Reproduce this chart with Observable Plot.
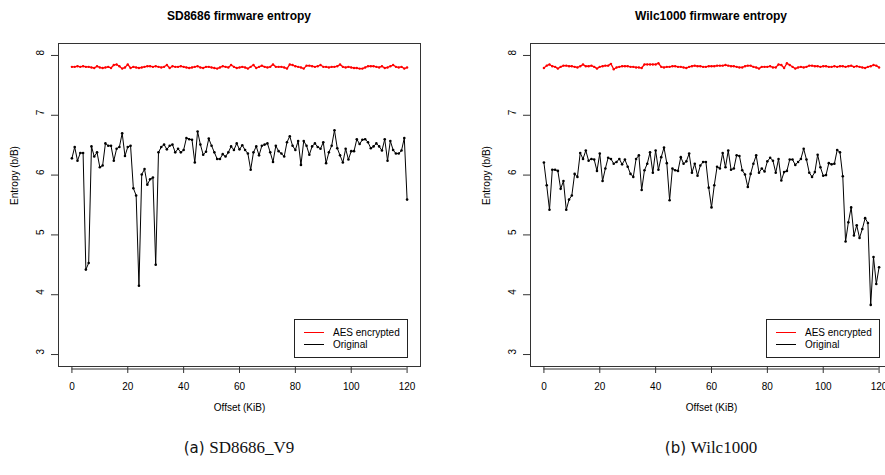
<!DOCTYPE html>
<html>
<head>
<meta charset="utf-8">
<script src="https://cdn.jsdelivr.net/npm/d3@7"></script>
<script src="https://cdn.jsdelivr.net/npm/@observablehq/plot@0.6"></script>
<style>
  body { margin: 0; background: #fff; }
  #fig { position: relative; width: 885px; height: 475px; overflow: hidden; background: #fff; font-family: "Liberation Sans", Arial, sans-serif; }
  .panel { position: absolute; top: 0; width: 440px; height: 420px; }
  .panel svg { max-width: none !important; display: block; }
  .title { position: absolute; top: 9px; width: 300px; margin-left: -150px; text-align: center; font-weight: bold; font-size: 12px; color: #000; }
  .legend { position: absolute; border: 1px solid #222; width: 112px; height: 37px; font-size: 10px; background: #fff; }
  .legend .row { position: absolute; left: 0; height: 12px; }
  .legend .sw { position: absolute; left: 9px; top: -1px; width: 20px; height: 1.6px; }
  .legend .lab { position: absolute; left: 38px; top: -6px; white-space: nowrap; line-height: 12px; }
  .caption { position: absolute; top: 438px; width: 300px; margin-left: -150px; text-align: center; font-size: 17px; color: #111; }
  .caption .tag { font-family: "DejaVu Sans", sans-serif; font-size: 15px; }
  .caption .name { font-family: "Liberation Serif", serif; }
</style>
</head>
<body>
<div id="fig"></div>
<script>
// ---- data ----
const OFFSETS = d3.range(0, 121); // KiB offsets 0..120

const SD_ORIGINAL = [
  6.28,6.47,6.24,6.37,6.37,4.42,4.53,6.48,6.31,6.38,
  6.13,6.16,6.53,6.49,6.49,6.24,6.44,6.47,6.70,6.32,
  6.47,6.49,5.78,5.66,4.15,6.01,6.10,5.84,5.93,5.96,
  4.50,6.38,6.47,6.51,6.43,6.49,6.51,6.38,6.44,6.38,
  6.42,6.62,6.60,6.59,6.21,6.73,6.51,6.34,6.39,6.61,
  6.49,6.38,6.27,6.27,6.35,6.31,6.38,6.48,6.42,6.53,
  6.43,6.50,6.42,6.36,6.09,6.38,6.48,6.33,6.49,6.51,
  6.53,6.38,6.22,6.49,6.40,6.36,6.31,6.55,6.65,6.49,
  6.42,6.57,6.17,6.57,6.49,6.34,6.48,6.53,6.47,6.44,
  6.55,6.20,6.38,6.49,6.75,6.45,6.33,6.21,6.44,6.26,
  6.40,6.40,6.60,6.52,6.59,6.60,6.55,6.45,6.48,6.53,
  6.48,6.41,6.60,6.24,6.57,6.42,6.36,6.36,6.41,6.62,
  5.59
];
const SD_AES = [
  7.81,7.81,7.82,7.81,7.82,7.81,7.81,7.80,7.79,7.82,
  7.80,7.79,7.80,7.81,7.79,7.84,7.85,7.82,7.78,7.80,
  7.85,7.79,7.81,7.80,7.79,7.80,7.81,7.82,7.82,7.81,
  7.82,7.81,7.80,7.81,7.84,7.79,7.82,7.81,7.81,7.82,
  7.81,7.80,7.79,7.80,7.81,7.82,7.80,7.79,7.81,7.81,
  7.80,7.79,7.78,7.80,7.82,7.81,7.80,7.84,7.81,7.79,
  7.80,7.81,7.80,7.78,7.81,7.84,7.79,7.81,7.83,7.81,
  7.80,7.81,7.85,7.81,7.81,7.81,7.80,7.78,7.85,7.84,
  7.82,7.81,7.80,7.78,7.83,7.83,7.82,7.81,7.82,7.84,
  7.81,7.81,7.80,7.81,7.81,7.82,7.85,7.81,7.80,7.81,
  7.80,7.79,7.79,7.78,7.78,7.80,7.82,7.82,7.82,7.81,
  7.80,7.82,7.79,7.80,7.82,7.84,7.81,7.80,7.81,7.78,
  7.80
];
const WILC_ORIGINAL = [
  6.21,5.83,5.42,6.09,6.09,6.07,5.77,5.90,5.42,5.59,
  5.66,6.02,5.97,6.37,6.27,6.41,6.24,6.27,6.26,6.07,
  6.36,5.90,6.11,6.29,6.27,6.19,6.22,6.27,6.18,6.26,
  6.14,6.02,5.97,6.27,6.33,5.75,6.08,6.19,6.38,6.04,
  6.41,6.09,6.30,6.46,6.20,5.58,6.11,6.08,6.07,6.30,
  6.19,6.23,6.36,6.04,6.19,5.99,6.16,6.22,6.22,5.79,
  5.46,5.83,6.14,6.11,6.37,6.13,6.41,6.09,6.11,6.33,
  6.32,6.08,6.01,5.80,6.02,6.19,6.33,6.04,6.11,6.06,
  6.23,6.29,6.24,6.04,6.27,5.91,6.05,6.07,6.26,6.26,
  6.17,6.22,6.27,6.44,6.26,6.04,5.97,6.05,6.34,6.13,
  5.99,6.00,6.20,6.18,6.19,6.42,6.38,5.98,4.89,5.21,
  5.46,4.99,5.16,4.95,5.10,5.28,5.20,3.83,4.63,4.18,
  4.46
];
const WILC_AES = [
  7.79,7.83,7.85,7.82,7.81,7.78,7.81,7.83,7.83,7.82,
  7.82,7.81,7.80,7.82,7.85,7.82,7.82,7.83,7.81,7.78,
  7.81,7.82,7.83,7.83,7.86,7.77,7.80,7.81,7.82,7.82,
  7.82,7.81,7.81,7.80,7.80,7.79,7.85,7.85,7.85,7.85,
  7.85,7.87,7.81,7.80,7.81,7.81,7.82,7.82,7.81,7.81,
  7.80,7.79,7.81,7.82,7.83,7.82,7.82,7.81,7.81,7.82,
  7.82,7.82,7.83,7.83,7.83,7.84,7.83,7.82,7.82,7.81,
  7.80,7.80,7.82,7.83,7.83,7.81,7.80,7.78,7.81,7.81,
  7.81,7.82,7.80,7.80,7.85,7.84,7.79,7.87,7.84,7.81,
  7.78,7.80,7.81,7.80,7.81,7.83,7.83,7.82,7.82,7.81,
  7.82,7.82,7.81,7.81,7.82,7.81,7.82,7.82,7.81,7.82,
  7.83,7.81,7.82,7.81,7.80,7.79,7.81,7.82,7.84,7.83,
  7.80
];

const X_TICKS = [0, 20, 40, 60, 80, 100, 120];
const Y_TICKS = [3, 4, 5, 6, 7, 8];
const X_LABEL = "Offset (KiB)";
const Y_LABEL = "Entropy (b/B)";
const SERIES = ["AES encrypted", "Original"];
const COLORS = ["#ff0000", "#000000"];
const PANELS = [
  { title: "SD8686 firmware entropy", tag: "(a)", name: "SD8686_V9", original: SD_ORIGINAL, aes: SD_AES, left: 0 },
  { title: "Wilc1000 firmware entropy", tag: "(b)", name: "Wilc1000", original: WILC_ORIGINAL, aes: WILC_AES, left: 472 }
];

// ---- drawing ----
const fig = document.getElementById("fig");
const W = 440, H = 420, ML = 58, MR = 20, MT = 43, MB = 54;

function table(vals) { return OFFSETS.map((k, i) => ({ k, v: vals[i] })); }

for (const p of PANELS) {
  const orig = table(p.original);
  const aes = table(p.aes);
  const chart = Plot.plot({
    width: W, height: H,
    marginLeft: ML, marginRight: MR, marginTop: MT, marginBottom: MB,
    x: { domain: [-4.8, 124.8], axis: null },
    y: { domain: [2.8, 8.2], axis: null },
    style: { fontFamily: "Liberation Sans, Arial, sans-serif", fontSize: "10px", background: "transparent", overflow: "visible", color: "#000", maxWidth: "none" },
    marks: [
      Plot.frame({ stroke: "#333", strokeWidth: 1 }),
      Plot.axisX(X_TICKS, { anchor: "bottom", tickSize: 7, tickPadding: 9, label: null, stroke: "#333", fontSize: 10 }),
      Plot.ruleY([2.8], { x1: X_TICKS[0], x2: X_TICKS[X_TICKS.length - 1], dy: 2.5, stroke: "#333" }),
      Plot.axisY(Y_TICKS, { anchor: "left", tickSize: 7, tickFormat: () => "", label: null, stroke: "#333" }),
      Plot.text(Y_TICKS, { y: d => d, text: d => String(d), frameAnchor: "left", dx: -18, rotate: -90, fontSize: 10, fill: "#000" }),
      Plot.text([Y_LABEL], { text: d => d, frameAnchor: "left", dx: -44, rotate: -90, fontSize: 10, fill: "#000" }),
      Plot.text([X_LABEL], { text: d => d, frameAnchor: "bottom", dy: 44, fontSize: 10, fill: "#000" }),
      Plot.line(aes, { x: "k", y: "v", stroke: COLORS[0], strokeWidth: 1.3 }),
      Plot.dot(aes, { x: "k", y: "v", r: 1.2, fill: COLORS[0], stroke: "none" }),
      Plot.line(orig, { x: "k", y: "v", stroke: COLORS[1], strokeWidth: 1 }),
      Plot.dot(orig, { x: "k", y: "v", r: 1.3, fill: COLORS[1], stroke: "none" })
    ]
  });
  const wrap = document.createElement("div");
  wrap.className = "panel";
  wrap.style.left = p.left + "px";
  wrap.appendChild(chart);
  fig.appendChild(wrap);

  const cx = p.left + ML + (W - ML - MR) / 2;
  const t = document.createElement("div");
  t.className = "title";
  t.style.left = cx + "px";
  t.textContent = p.title;
  fig.appendChild(t);

  const lg = document.createElement("div");
  lg.className = "legend";
  lg.style.left = (p.left + 294) + "px";
  lg.style.top = "319px";
  SERIES.forEach((s, i) => {
    const row = document.createElement("div");
    row.className = "row";
    row.style.top = (12.5 + i * 12.3) + "px";
    const sw = document.createElement("div");
    sw.className = "sw";
    sw.style.background = COLORS[i];
    const lab = document.createElement("div");
    lab.className = "lab";
    lab.textContent = s;
    row.appendChild(sw);
    row.appendChild(lab);
    lg.appendChild(row);
  });
  fig.appendChild(lg);

  const c = document.createElement("div");
  c.className = "caption";
  c.style.left = cx + "px";
  c.innerHTML = `<span class="tag">${p.tag}</span> <span class="name">${p.name}</span>`;
  fig.appendChild(c);
}
</script>
</body>
</html>
